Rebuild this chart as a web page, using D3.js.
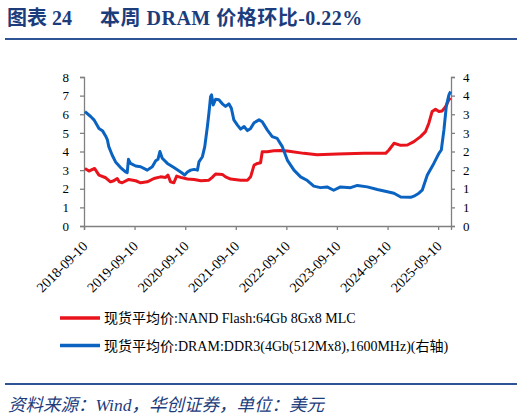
<!DOCTYPE html>
<html>
<head>
<meta charset="utf-8">
<script src="https://cdn.jsdelivr.net/npm/d3@7"></script>
<style>
  body { margin: 0; background: #fff; }
  svg { display: block; }
</style>
</head>
<body>
<svg id="chart" width="524" height="419"></svg>
<script>
// NAND Flash 64Gb 8Gx8 MLC spot price (left axis)
var nandDates = ["2018-09-17","2018-10-16","2018-11-10","2018-11-26","2018-12-27","2019-02-14","2019-03-20","2019-04-13","2019-05-08","2019-05-22","2019-06-13","2019-07-30","2019-09-18","2019-10-24","2019-12-11","2020-01-28","2020-03-16","2020-04-21","2020-05-08","2020-05-27","2020-06-20","2020-07-10","2020-08-08","2020-09-26","2020-11-13","2021-01-01","2021-02-28","2021-03-24","2021-04-17","2021-06-05","2021-06-28","2021-08-04","2021-10-15","2021-12-03","2021-12-26","2022-01-20","2022-02-13","2022-03-08","2022-03-20","2022-04-25","2022-06-12","2022-07-30","2022-09-17","2023-01-15","2023-04-20","2023-09-13","2024-03-23","2024-08-27","2024-09-20","2024-10-26","2024-12-14","2025-01-31","2025-03-19","2025-05-06","2025-06-11","2025-07-05","2025-07-29","2025-08-22","2025-09-16","2025-10-10","2025-11-04","2025-11-27","2025-12-09"];
var nandValues = [3.09,2.95,3.04,3.09,2.73,2.59,2.37,2.43,2.55,2.37,2.32,2.50,2.43,2.32,2.37,2.55,2.64,2.61,2.73,2.37,2.32,2.68,2.61,2.52,2.50,2.43,2.46,2.61,2.79,2.77,2.64,2.52,2.46,2.46,2.64,3.27,3.36,3.40,3.99,3.99,4.04,4.06,4.03,3.90,3.83,3.87,3.90,3.90,4.08,4.44,4.33,4.35,4.53,4.80,5.07,5.52,6.15,6.27,6.15,6.18,6.42,6.78,6.87];

// DRAM DDR3 4Gb 512Mx8 1600MHz spot price (right axis)
var dramDates = ["2018-09-17","2018-10-28","2018-11-21","2018-12-27","2019-01-21","2019-02-14","2019-02-26","2019-03-08","2019-04-02","2019-04-26","2019-06-01","2019-07-07","2019-07-19","2019-07-28","2019-08-12","2019-09-18","2019-10-24","2019-12-11","2020-01-16","2020-02-10","2020-02-26","2020-03-11","2020-03-28","2020-05-04","2020-06-20","2020-08-08","2020-09-06","2020-09-26","2020-10-19","2020-11-13","2020-12-07","2020-12-18","2021-01-12","2021-01-29","2021-02-17","2021-02-28","2021-03-12","2021-03-19","2021-03-31","2021-04-17","2021-05-11","2021-06-05","2021-06-28","2021-07-22","2021-08-09","2021-08-27","2021-09-22","2021-10-15","2021-11-09","2021-12-03","2021-12-26","2022-01-20","2022-02-25","2022-03-20","2022-04-25","2022-05-31","2022-07-06","2022-08-12","2022-09-17","2022-11-04","2022-12-22","2023-02-09","2023-03-27","2023-05-14","2023-07-01","2023-08-18","2023-10-06","2023-12-18","2024-02-05","2024-04-17","2024-06-28","2024-09-09","2024-10-26","2024-12-14","2025-02-24","2025-03-19","2025-04-24","2025-05-18","2025-06-24","2025-08-10","2025-09-16","2025-10-03","2025-10-22","2025-11-08","2025-11-27","2025-12-09"];
var dramValues = [3.07,2.94,2.85,2.62,2.56,2.41,2.31,2.13,1.90,1.72,1.57,1.45,1.43,1.79,1.68,1.61,1.59,1.50,1.59,1.75,1.79,2.00,1.82,1.68,1.57,1.45,1.37,1.45,1.50,1.52,1.50,1.72,1.86,2.13,2.67,3.03,3.47,3.52,3.25,3.40,3.39,3.28,3.21,3.28,3.16,2.85,2.71,2.60,2.67,2.56,2.62,2.77,2.85,2.80,2.58,2.40,2.35,2.13,1.77,1.50,1.32,1.22,1.07,1.03,1.05,0.96,1.05,1.03,1.09,1.05,0.98,0.92,0.88,0.78,0.77,0.80,0.88,0.96,1.37,1.68,1.95,2.04,2.58,3.21,3.52,3.61];

var xTickLabels = ["2018-09-10","2019-09-10","2020-09-10","2021-09-10","2022-09-10","2023-09-10","2024-09-10","2025-09-10"];
var leftTicks = [0,1,2,3,4,5,6,7,8];
var rightTicks = [0,0.5,1,1.5,2,2.5,3,3.5,4];

var titleLabel = "图表 24";
var titleText = "本周 DRAM 价格环比-0.22%";
var legendNames = ["现货平均价:NAND Flash:64Gb 8Gx8 MLC", "现货平均价:DRAM:DDR3(4Gb(512Mx8),1600MHz)(右轴)"];
var sourceText = "资料来源：Wind，华创证券，单位：美元";

var parse = d3.timeParse("%Y-%m-%d");
var nand = nandDates.map(function(d,i){ return {date: parse(d), value: nandValues[i]}; });
var dram = dramDates.map(function(d,i){ return {date: parse(d), value: dramValues[i]}; });

var svg = d3.select("#chart");
var plot = {left: 84, right: 451, top: 77, bottom: 226};
var serif = "'Liberation Serif','Times New Roman',serif";
var axisGray = "#808080";
var navy = "#1c3c7c";

var x = d3.scaleTime()
  .domain([parse("2018-09-10"), parse("2025-12-12")])
  .range([plot.left, plot.right]);
var yL = d3.scaleLinear().domain([0,8]).range([plot.bottom, plot.top]);
var yR = d3.scaleLinear().domain([0,4]).range([plot.bottom, plot.top]);

// title + rule
var titleFont = serif + ",'Noto Sans CJK SC'";
svg.append("text")
  .attr("x", 7).attr("y", 25)
  .attr("fill", navy).attr("font-family", titleFont)
  .attr("font-weight", "bold").attr("font-size", 20)
  .text(titleLabel);
svg.append("text")
  .attr("x", 100).attr("y", 25)
  .attr("fill", navy).attr("font-family", titleFont)
  .attr("font-weight", "bold").attr("font-size", 20)
  .attr("letter-spacing", 0.5)
  .text(titleText);
svg.append("line")
  .attr("x1", 5).attr("x2", 517).attr("y1", 39).attr("y2", 39)
  .attr("stroke", "#2f5496").attr("stroke-width", 2);

// axes
var xAxis = d3.axisBottom(x)
  .tickValues(xTickLabels.map(parse))
  .tickSize(4)
  .tickFormat(d3.timeFormat("%Y-%m-%d"));
var gx = svg.append("g").attr("transform", "translate(0," + plot.bottom + ")").call(xAxis);
gx.selectAll("text")
  .attr("font-family", serif).attr("font-size", 14).attr("fill", "#000")
  .attr("text-anchor", "end")
  .attr("x", 0).attr("y", 0).attr("dy", "0")
  .attr("transform", "translate(4,21) rotate(-45)");

var gl = svg.append("g").attr("transform", "translate(" + plot.left + ",0)")
  .call(d3.axisLeft(yL).tickValues(leftTicks).tickSize(4).tickFormat(d3.format("d")));
gl.selectAll("text").attr("font-family", serif).attr("font-size", 13).attr("fill", "#000").attr("x", -15);

var gr = svg.append("g").attr("transform", "translate(" + plot.right + ",0)")
  .call(d3.axisRight(yR).tickValues(rightTicks).tickSize(4)
    .tickFormat(function(d){ return Math.round(d + 0.001); }));
gr.selectAll("text").attr("font-family", serif).attr("font-size", 13).attr("fill", "#000").attr("x", 12);

[gx, gl, gr].forEach(function(g){
  g.select(".domain").attr("stroke", axisGray).attr("stroke-width", 1.3);
  g.selectAll(".tick line").attr("stroke", axisGray).attr("stroke-width", 1.3);
});

// lines
var lineL = d3.line().x(function(d){ return x(d.date); }).y(function(d){ return yL(d.value); });
var lineR = d3.line().x(function(d){ return x(d.date); }).y(function(d){ return yR(d.value); });

svg.append("path").datum(nand)
  .attr("d", lineL).attr("fill", "none")
  .attr("stroke", "#e8131b").attr("stroke-width", 3).attr("stroke-linejoin", "round");
svg.append("path").datum(dram)
  .attr("d", lineR).attr("fill", "none")
  .attr("stroke", "#0b63c1").attr("stroke-width", 3).attr("stroke-linejoin", "round");

// legend
var legendColors = ["#e8131b", "#0b63c1"];
var lg = svg.selectAll(".legend").data(legendNames).enter().append("g")
  .attr("transform", function(d,i){ return "translate(60," + (318 + i*27.5) + ")"; });
lg.append("line").attr("x1", 0).attr("x2", 40).attr("y1", 0).attr("y2", 0)
  .attr("stroke", function(d,i){ return legendColors[i]; }).attr("stroke-width", 3.5);
lg.append("text").attr("x", 44).attr("y", 5)
  .attr("font-family", serif + ",'Noto Sans CJK SC'").attr("font-size", 14).attr("fill", "#000")
  .text(function(d){ return d; });

// footer
svg.append("line")
  .attr("x1", 5).attr("x2", 517).attr("y1", 384).attr("y2", 384)
  .attr("stroke", "#2f5496").attr("stroke-width", 2);
svg.append("text")
  .attr("x", 8).attr("y", 411)
  .attr("fill", navy)
  .attr("font-family", serif + ",'Noto Sans CJK SC'")
  .attr("font-style", "italic")
  .attr("font-size", 17.5)
  .text(sourceText);
</script>
</body>
</html>
